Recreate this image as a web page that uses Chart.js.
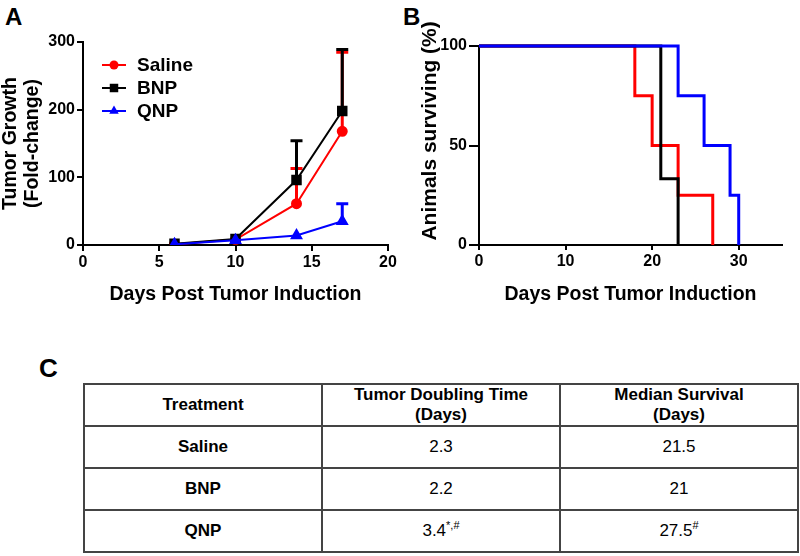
<!DOCTYPE html>
<html lang="en">
<head>
<meta charset="UTF-8">
<title>Tumor Growth and Survival</title>
<script src="https://cdn.jsdelivr.net/npm/chart.js"></script>
<style>
    body { margin: 0; width: 800px; height: 556px; position: relative; overflow: hidden; background: #fff;
           font-family: "Liberation Sans", Arial, sans-serif; color: #000; }
    .panel { position: absolute; font-weight: bold; font-size: 24px; line-height: 1; }
    .wrap { position: absolute; top: 0; width: 400px; height: 320px; }
    table { position: absolute; left: 83px; top: 383px; border-collapse: collapse; font-size: 17px; table-layout: fixed; }
    td, th { border: 2px solid #444; text-align: center; vertical-align: middle; width: 236px; height: 40px; padding: 0; }
    th { font-weight: bold; line-height: 20px; }
    td.name { font-weight: bold; }
    sup { font-size: 11px; vertical-align: 7px; line-height: 0; }
</style>
</head>
<body>

<div class="panel" style="left:5px;top:5px;">A</div>
<div class="panel" style="left:403px;top:5px;">B</div>
<div class="panel" style="left:39px;top:355px;font-size:26px;">C</div>

<div class="wrap" style="left:0;"><canvas id="growthChart" width="400" height="320"></canvas></div>
<div class="wrap" style="left:400px;"><canvas id="survivalChart" width="400" height="320"></canvas></div>

<table>
    <tr><th>Treatment</th><th>Tumor Doubling Time<br>(Days)</th><th>Median Survival<br>(Days)</th></tr>
    <tr><td class="name">Saline</td><td>2.3</td><td>21.5</td></tr>
    <tr><td class="name">BNP</td><td>2.2</td><td>21</td></tr>
    <tr><td class="name">QNP</td><td>3.4<sup>*,#</sup></td><td>27.5<sup>#</sup></td></tr>
</table>

<script>
    // Panel A: tumor growth (fold-change) vs day
    const growthDays = [6, 10, 14, 17];
    const salineGrowth = [1, 8, 61, 168];
    const salineErr = [0, 0, 52, 117];
    const bnpGrowth = [2, 9, 96, 198];
    const bnpErr = [0, 0, 58, 91];
    const qnpGrowth = [1, 7, 14, 35];
    const qnpErr = [0, 0, 0, 26];

    // Panel B: Kaplan-Meier steps (day, % surviving)
    const salineSurvDays = [0, 18, 20, 23, 27];
    const salineSurv = [100, 75, 50, 25, 0];
    const bnpSurvDays = [0, 21, 23];
    const bnpSurv = [100, 33.3, 0];
    const qnpSurvDays = [0, 23, 26, 29, 30];
    const qnpSurv = [100, 75, 50, 25, 0];

    const FONT = '"Liberation Sans", Arial, sans-serif';
    Chart.defaults.color = '#000';
    Chart.defaults.font.family = FONT;

    function toPoints(xs, ys) {
        return xs.map((x, i) => ({ x: x, y: ys[i] }));
    }

    // upward-only error bars, drawn right after each dataset
    const errorBars = {
        id: 'errorBars',
        afterDatasetDraw(chart, args) {
            const ds = chart.data.datasets[args.index];
            if (!ds.errors) return;
            const ctx = chart.ctx;
            const yScale = chart.scales.y;
            ctx.save();
            ctx.strokeStyle = ds.borderColor;
            ctx.lineWidth = 3;
            args.meta.data.forEach((pt, j) => {
                if (!ds.errors[j]) return;
                const top = yScale.getPixelForValue(ds.data[j].y + ds.errors[j]);
                ctx.beginPath();
                ctx.moveTo(pt.x, pt.y);
                ctx.lineTo(pt.x, top);
                ctx.moveTo(pt.x - 6, top);
                ctx.lineTo(pt.x + 6, top);
                ctx.stroke();
            });
            ctx.restore();
        }
    };

    // legend drawn inside the plot, one entry per row
    const insideLegend = {
        id: 'insideLegend',
        afterDraw(chart) {
            const { ctx, chartArea } = chart;
            ctx.save();
            chart.data.datasets.forEach((ds, i) => {
                const y = chartArea.top + 23 + i * 23;
                const x0 = chartArea.left + 19;
                ctx.strokeStyle = ds.borderColor;
                ctx.fillStyle = ds.borderColor;
                ctx.lineWidth = 2;
                ctx.beginPath();
                ctx.moveTo(x0, y);
                ctx.lineTo(x0 + 24, y);
                ctx.stroke();
                Chart.helpers.drawPoint(ctx, { pointStyle: ds.pointStyle, radius: ds.pointRadius, rotation: 0, borderWidth: 0 }, x0 + 12, y);
                ctx.fillStyle = '#000';
                ctx.font = 'bold 19px ' + FONT;
                ctx.textBaseline = 'middle';
                ctx.fillText(ds.label, x0 + 35, y + 1);
            });
            ctx.restore();
        }
    };

    function axisStyle(tickLen, step) {
        return {
            border: { color: '#000', width: 2 },
            grid: { drawOnChartArea: false, color: '#000', lineWidth: 2, tickLength: tickLen },
            ticks: { font: { size: 16, weight: 'bold' }, padding: 2, stepSize: step }
        };
    }

    new Chart(document.getElementById('growthChart'), {
        type: 'line',
        data: {
            datasets: [{
                label: 'Saline',
                data: toPoints(growthDays, salineGrowth),
                errors: salineErr,
                borderColor: '#ff0000',
                backgroundColor: '#ff0000',
                borderWidth: 2,
                pointStyle: 'circle',
                pointRadius: 4.5,
                order: 3
            }, {
                label: 'BNP',
                data: toPoints(growthDays, bnpGrowth),
                errors: bnpErr,
                borderColor: '#000000',
                backgroundColor: '#000000',
                borderWidth: 2,
                pointStyle: 'rect',
                pointRadius: 6,
                order: 2
            }, {
                label: 'QNP',
                data: toPoints(growthDays, qnpGrowth),
                errors: qnpErr,
                borderColor: '#0000ff',
                backgroundColor: '#0000ff',
                borderWidth: 2,
                pointStyle: 'triangle',
                pointRadius: 5.5,
                order: 1
            }]
        },
        options: {
            responsive: false,
            animation: false,
            layout: { padding: { left: 0, top: 42, right: 12, bottom: 0 } },
            plugins: { legend: { display: false }, tooltip: { enabled: false } },
            elements: { point: { borderWidth: 0 }, line: { tension: 0 } },
            scales: {
                x: Object.assign(axisStyle(6, 5), {
                    type: 'linear', min: 0, max: 20,
                    afterFit: s => { s.height = 75; },
                    title: { display: true, text: 'Days Post Tumor Induction',
                             font: { size: 19.5, weight: 'bold', lineHeight: 1.15 }, padding: { top: 0, bottom: 14 } }
                }),
                y: Object.assign(axisStyle(6, 100), {
                    min: 0, max: 300,
                    afterFit: s => { s.width = 83; },
                    title: { display: true, text: ['Tumor Growth', '(Fold-change)'],
                             font: { size: 19.5, weight: 'bold', lineHeight: 1.13 }, padding: { top: 0, bottom: 0 } }
                })
            }
        },
        plugins: [errorBars, insideLegend]
    });

    new Chart(document.getElementById('survivalChart'), {
        type: 'line',
        data: {
            datasets: [{
                label: 'Saline',
                data: toPoints(salineSurvDays, salineSurv),
                borderColor: '#ff0000',
                order: 3
            }, {
                label: 'BNP',
                data: toPoints(bnpSurvDays, bnpSurv),
                borderColor: '#000000',
                order: 2
            }, {
                label: 'QNP',
                data: toPoints(qnpSurvDays, qnpSurv),
                borderColor: '#0000ff',
                order: 1
            }]
        },
        options: {
            responsive: false,
            animation: false,
            layout: { padding: { left: 0, top: 46, right: 18, bottom: 0 } },
            plugins: { legend: { display: false }, tooltip: { enabled: false } },
            elements: { point: { radius: 0 }, line: { borderWidth: 3, stepped: true } },
            datasets: { line: { clip: false } },
            scales: {
                x: Object.assign(axisStyle(5, 10), {
                    type: 'linear', min: 0, max: 35,
                    afterBuildTicks: s => { s.ticks = s.ticks.filter(t => t.value % 10 === 0); },
                    afterFit: s => { s.height = 75; },
                    title: { display: true, text: 'Days Post Tumor Induction',
                             font: { size: 19.5, weight: 'bold', lineHeight: 1.15 }, padding: { top: 0, bottom: 14 } }
                }),
                y: Object.assign(axisStyle(10, 50), {
                    min: 0, max: 100,
                    afterFit: s => { s.width = 79; },
                    // leading spaces lift the title above the axis centre, as in the figure
                    title: { display: true, text: '     Animals surviving (%)',
                             font: { size: 21, weight: 'bold', lineHeight: 1.15 }, padding: { top: 18, bottom: 0 } }
                })
            }
        }
    });
</script>
</body>
</html>
